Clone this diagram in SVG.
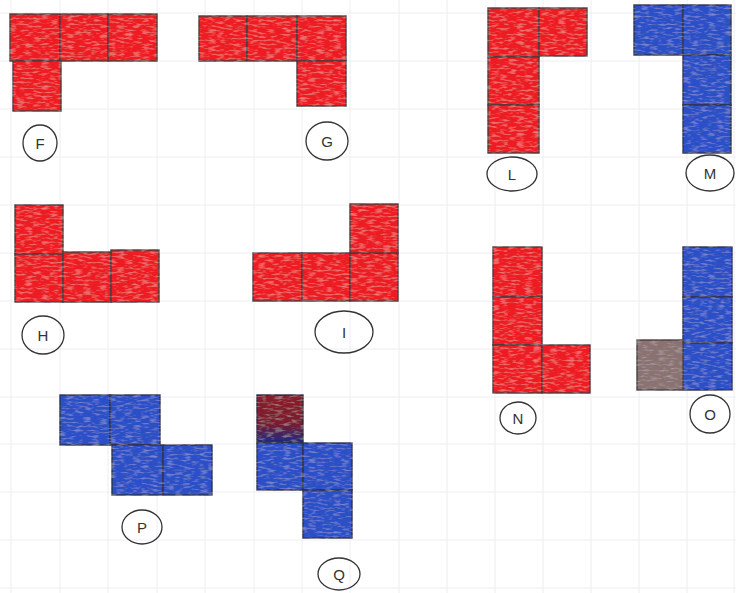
<svg xmlns="http://www.w3.org/2000/svg" width="736" height="593" viewBox="0 0 736 593">
<defs>
<style>
.grid line{stroke:#eeeef2;stroke-width:1}
.r{fill:#ec1c20;stroke:#4a3a3a;stroke-width:1.4}
.b{fill:#2a4fc6;stroke:#2e3450;stroke-width:1.4}
.g{fill:#8a7272;stroke:#4a4040;stroke-width:1.4}
.q{fill:url(#qg);stroke:#2e2a40;stroke-width:1.4}
.lab ellipse{fill:none;stroke:#333;stroke-width:1.3}
.lab text{font-family:"Liberation Sans",Arial,sans-serif;font-size:15px;fill:#333;text-anchor:middle;dominant-baseline:central}
</style>
<linearGradient id="qg" x1="0" y1="0" x2="0" y2="1">
<stop offset="0" stop-color="#8a1a28"/>
<stop offset="0.6" stop-color="#7a1a30"/>
<stop offset="1" stop-color="#1c2a88"/>
</linearGradient>
<filter id="crayon" x="-5%" y="-5%" width="110%" height="110%">
<feTurbulence type="fractalNoise" baseFrequency="0.12 0.5" numOctaves="2" seed="3" result="n"/>
<feColorMatrix in="n" type="matrix" values="0 0 0 0 1  0 0 0 0 1  0 0 0 0 1  0.5 0 0 0 -0.24" result="w"/>
<feComposite in="w" in2="SourceGraphic" operator="in" result="wm"/>
<feMerge><feMergeNode in="SourceGraphic"/><feMergeNode in="wm"/></feMerge>
</filter>
</defs>
<rect width="736" height="593" fill="#ffffff"/>
<g class="grid">
<line x1="11" y1="0" x2="11" y2="593"/><line x1="60" y1="0" x2="60" y2="593"/><line x1="108" y1="0" x2="108" y2="593"/><line x1="157" y1="0" x2="157" y2="593"/><line x1="205" y1="0" x2="205" y2="593"/><line x1="254" y1="0" x2="254" y2="593"/><line x1="302" y1="0" x2="302" y2="593"/><line x1="350" y1="0" x2="350" y2="593"/><line x1="399" y1="0" x2="399" y2="593"/><line x1="447" y1="0" x2="447" y2="593"/><line x1="495" y1="0" x2="495" y2="593"/><line x1="543" y1="0" x2="543" y2="593"/><line x1="591" y1="0" x2="591" y2="593"/><line x1="639" y1="0" x2="639" y2="593"/><line x1="687" y1="0" x2="687" y2="593"/><line x1="734" y1="0" x2="734" y2="593"/>
<line x1="0" y1="13" x2="736" y2="13"/><line x1="0" y1="61" x2="736" y2="61"/><line x1="0" y1="109" x2="736" y2="109"/><line x1="0" y1="157" x2="736" y2="157"/><line x1="0" y1="205" x2="736" y2="205"/><line x1="0" y1="253" x2="736" y2="253"/><line x1="0" y1="301" x2="736" y2="301"/><line x1="0" y1="349" x2="736" y2="349"/><line x1="0" y1="397" x2="736" y2="397"/><line x1="0" y1="444" x2="736" y2="444"/><line x1="0" y1="492" x2="736" y2="492"/><line x1="0" y1="540" x2="736" y2="540"/><line x1="0" y1="588" x2="736" y2="588"/>
</g>
<g filter="url(#crayon)">
<g id="F"><rect class="r" x="10" y="14" width="50" height="47"/><rect class="r" x="60" y="14" width="48" height="47"/><rect class="r" x="108" y="14" width="49" height="47"/><rect class="r" x="13" y="61" width="48" height="50"/></g>
<g id="G"><rect class="r" x="199" y="16" width="48" height="45"/><rect class="r" x="247" y="16" width="50" height="45"/><rect class="r" x="297" y="16" width="49" height="45"/><rect class="r" x="297" y="61" width="49" height="45"/></g>
<g id="L"><rect class="r" x="488" y="8" width="51" height="49"/><rect class="r" x="539" y="8" width="48" height="48"/><rect class="r" x="488" y="57" width="51" height="48"/><rect class="r" x="488" y="105" width="51" height="48"/></g>
<g id="M"><rect class="b" x="634" y="5" width="49" height="50"/><rect class="b" x="683" y="5" width="48" height="50"/><rect class="b" x="683" y="55" width="48" height="50"/><rect class="b" x="683" y="105" width="48" height="48"/></g>
<g id="H"><rect class="r" x="15" y="205" width="48" height="49"/><rect class="r" x="15" y="254" width="48" height="48"/><rect class="r" x="63" y="252" width="48" height="50"/><rect class="r" x="111" y="250" width="48" height="52"/></g>
<g id="I"><rect class="r" x="253" y="253" width="49" height="48"/><rect class="r" x="302" y="253" width="48" height="48"/><rect class="r" x="350" y="253" width="48" height="48"/><rect class="r" x="350" y="204" width="48" height="49"/></g>
<g id="N"><rect class="r" x="493" y="247" width="49" height="50"/><rect class="r" x="493" y="297" width="49" height="48"/><rect class="r" x="493" y="345" width="49" height="48"/><rect class="r" x="542" y="345" width="48" height="48"/></g>
<g id="O"><rect class="b" x="683" y="247" width="49" height="50"/><rect class="b" x="683" y="297" width="49" height="46"/><rect class="b" x="683" y="343" width="49" height="47"/><rect class="g" x="637" y="340" width="46" height="50"/></g>
<g id="P"><rect class="b" x="60" y="395" width="50" height="50"/><rect class="b" x="110" y="395" width="50" height="50"/><rect class="b" x="112" y="445" width="51" height="50"/><rect class="b" x="163" y="445" width="49" height="50"/></g>
<g id="Q"><rect class="q" x="257" y="395" width="46" height="48"/><rect class="b" x="257" y="443" width="46" height="47"/><rect class="b" x="303" y="443" width="49" height="47"/><rect class="b" x="303" y="490" width="49" height="48"/></g>
</g>
<g class="lab">
<g id="label-F"><ellipse cx="40" cy="143" rx="17" ry="18"/><text x="40" y="143">F</text></g>
<g id="label-G"><ellipse cx="327" cy="141" rx="21" ry="19"/><text x="327" y="141">G</text></g>
<g id="label-L"><ellipse cx="512" cy="174" rx="25" ry="17"/><text x="512" y="174">L</text></g>
<g id="label-M"><ellipse cx="710" cy="173" rx="24" ry="18"/><text x="710" y="173">M</text></g>
<g id="label-H"><ellipse cx="43" cy="335" rx="21" ry="19"/><text x="43" y="335">H</text></g>
<g id="label-I"><ellipse cx="344" cy="332" rx="29" ry="21"/><text x="344" y="332">I</text></g>
<g id="label-N"><ellipse cx="518" cy="418" rx="18" ry="16"/><text x="518" y="418">N</text></g>
<g id="label-O"><ellipse cx="710" cy="414" rx="20" ry="19"/><text x="710" y="414">O</text></g>
<g id="label-P"><ellipse cx="142" cy="527" rx="20" ry="17"/><text x="142" y="527">P</text></g>
<g id="label-Q"><ellipse cx="339" cy="574" rx="21" ry="16"/><text x="339" y="574">Q</text></g>
</g>
</svg>
